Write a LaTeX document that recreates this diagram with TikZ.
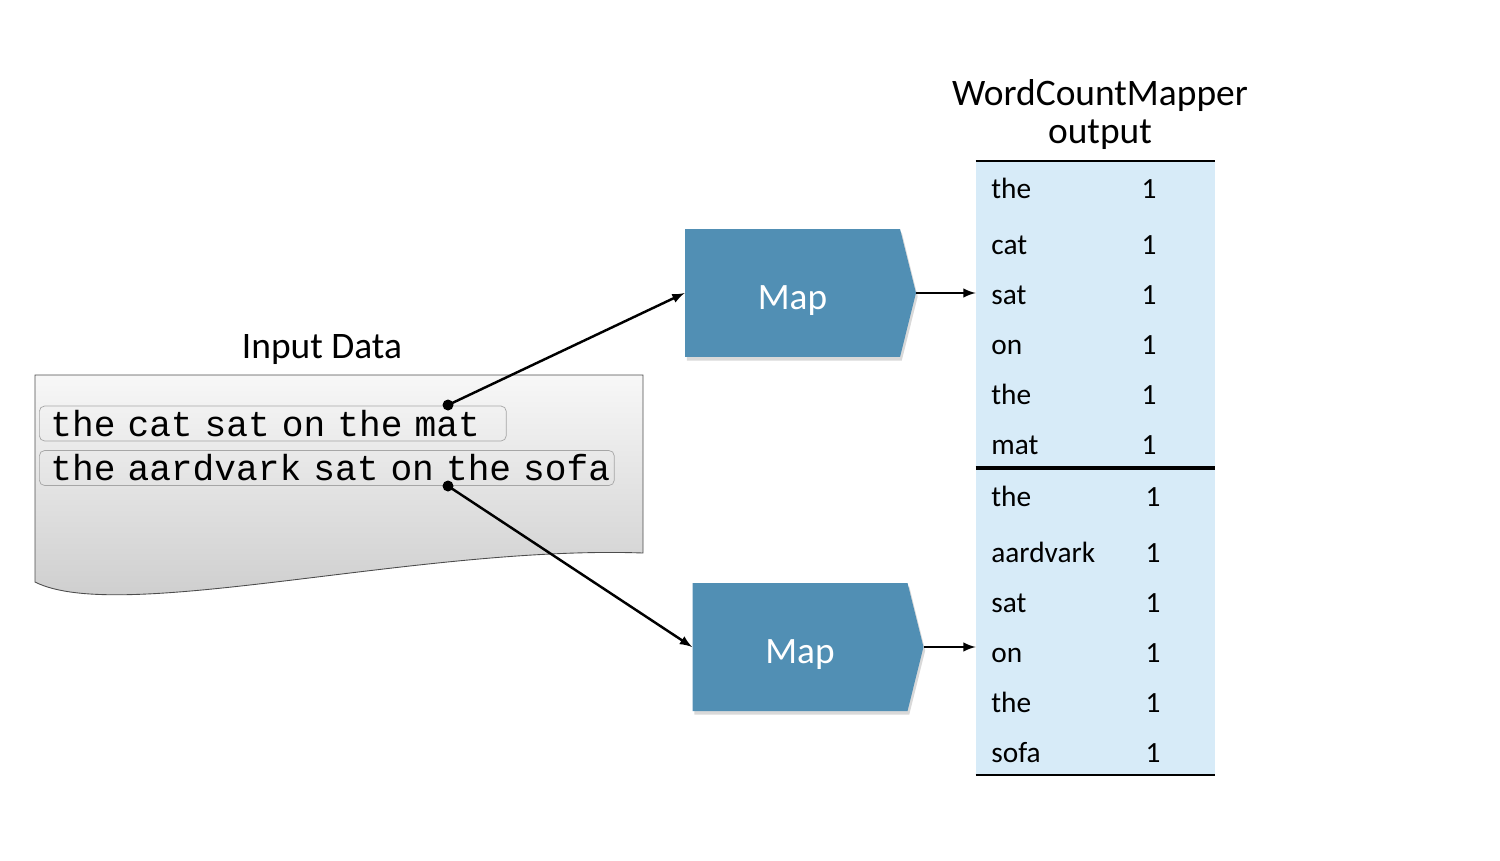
\documentclass[tikz,border=0pt]{standalone}
\usepackage{fontspec}
\setmainfont{Carlito}
\newfontfamily\codefont{Liberation Mono}
\usepackage{tikz}
\usetikzlibrary{positioning, arrows, shapes, shadows}

\definecolor{mapblue}{RGB}{81,143,180}
\definecolor{tableblue}{RGB}{215,235,248}

\tikzset{
  mapbox/.style={shape=signal, signal to=east, signal pointer angle=152, fill=mapblue, text=white,
    minimum width=4.62cm, minimum height=2.56cm, inner sep=0pt, text depth=0pt, text height=19pt,
    font=\fontsize{21.2}{25}\selectfont,
    drop shadow={shadow xshift=1pt, shadow yshift=-2pt, opacity=0.3}},
  linebox/.style={draw=gray!70, rounded corners=3pt, anchor=west, inner xsep=0.22cm, inner ysep=0pt,
    minimum height=0.7cm, align=left, font=\codefont\fontsize{20.6}{22}\selectfont},
  word/.style={anchor=base west, inner sep=0pt, font=\fontsize{16.7}{19}\selectfont},
  count/.style={anchor=base, inner sep=0pt, font=\fontsize{16.7}{19}\selectfont},
  heading/.style={font=\fontsize{21.3}{25}\selectfont, inner sep=0pt, anchor=base},
  dot/.style={circle, fill, inner sep=0pt, minimum size=0.22cm},
  >=latex
}

\begin{document}
\begin{tikzpicture}[x=0.02cm, y=-0.02cm]
\useasboundingbox (0,0) rectangle (1500,860);

% input data sheet
\shade[top color=gray!6, bottom color=gray!42, draw=gray!60!black, line width=0.5pt]
  (35,375) -- (643,375) -- (643,553) .. controls (420,545) and (120,625) .. (35,582) -- cycle;
\node[heading] (intitle) at (322,358) {Input Data};
\node[linebox, text width=8.9cm] (line1) at (39,423.5) {\mbox{the cat sat on the mat}};
\node[linebox, text width=11.06cm] (line2) at (39,468) {\mbox{the aardvark sat on the sofa}};
\node[dot] (d1) at (448,405) {};
\node[dot] (d2) at (448,486) {};

% mappers
\node[mapbox] (map1) at (792.5,293) {Map};
\node[mapbox] (map2) at (800,647) {Map};

% output table
\node[fill=tableblue, minimum width=4.78cm, minimum height=12.28cm, inner sep=0pt] (tbl) at (1095.5,468) {};
\node[heading] (outtitle) at (1100,105) {WordCountMapper};
\node[heading] (outtitle2) at (1100,143) {output};
\draw[line width=1.2pt] (tbl.north west) -- (tbl.north east);
\draw[line width=2.4pt] (tbl.west) -- (tbl.east);
\draw[line width=1.2pt] (tbl.south west) -- (tbl.south east);

\node[word] (w1) at (991,198) {the};      \node[count] (n1) at (1149,198) {1};
\node[word] (w2) at (991,254) {cat};      \node[count] (n2) at (1149,254) {1};
\node[word] (w3) at (991,304) {sat};      \node[count] (n3) at (1149,304) {1};
\node[word] (w4) at (991,354) {on};       \node[count] (n4) at (1149,354) {1};
\node[word] (w5) at (991,404) {the};      \node[count] (n5) at (1149,404) {1};
\node[word] (w6) at (991,454) {mat};      \node[count] (n6) at (1149,454) {1};
\node[word] (w7) at (991,506) {the};      \node[count] (n7) at (1153,506) {1};
\node[word] (w8) at (991,562) {aardvark}; \node[count] (n8) at (1153,562) {1};
\node[word] (w9) at (991,612) {sat};      \node[count] (n9) at (1153,612) {1};
\node[word] (w10) at (991,662) {on};      \node[count] (n10) at (1153,662) {1};
\node[word] (w11) at (991,712) {the};     \node[count] (n11) at (1153,712) {1};
\node[word] (w12) at (991,762) {sofa};    \node[count] (n12) at (1153,762) {1};

\draw[line width=1.4pt]
    (d1.center) edge[->] (map1.west)
    (d2.center) edge[->] (map2.west)
    (map1.east) edge[->] (tbl.west |- map1.east)
    (map2.east) edge[->] (tbl.west |- map2.east);

\end{tikzpicture}
\end{document}
